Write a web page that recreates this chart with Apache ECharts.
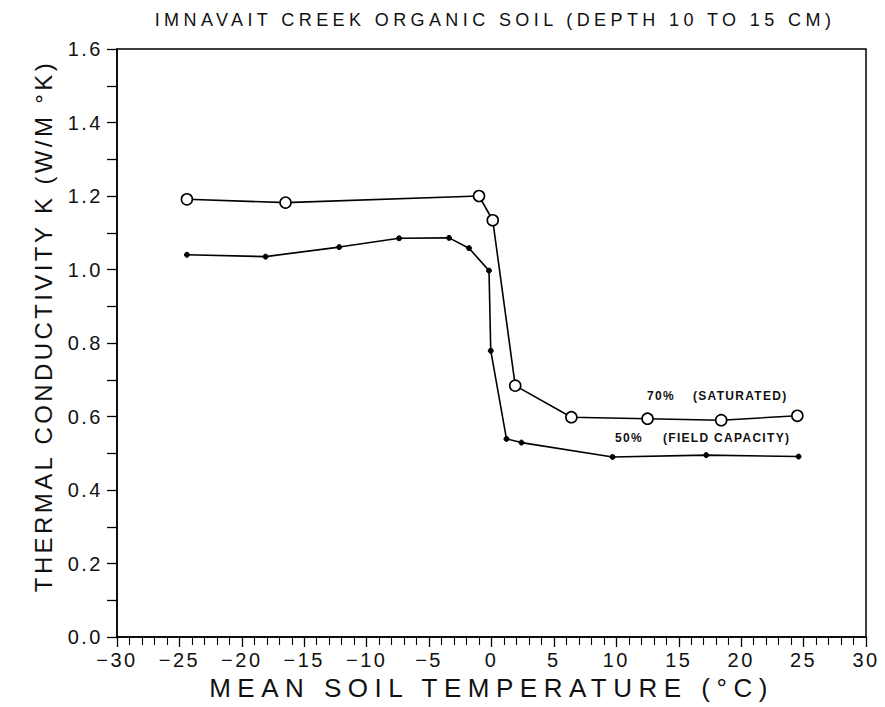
<!DOCTYPE html>
<html><head><meta charset="utf-8">
<script src="https://cdn.jsdelivr.net/npm/echarts@6/dist/echarts.min.js"></script>
<style>
html,body{margin:0;padding:0;background:#fff}
#c{width:885px;height:707px}
#c text[style*="18px"]{letter-spacing:4.4px}
#c text[style*="26px"]{letter-spacing:6.5px}
#c text[style*="24px"]{letter-spacing:3.4px}
#c text[style*="20px"]{letter-spacing:2.5px}
#c text[style*="12px"]{letter-spacing:1.3px}
</style>
</head><body><div id="c"></div>
<script>
// Saturated (70%) series: [temperature °C, k W/m°K]
const saturatedT = [-24.4, -16.5, -1.0, 0.1, 1.9, 6.4, 12.5, 18.4, 24.5];
const saturatedK = [1.191, 1.182, 1.200, 1.134, 0.684, 0.598, 0.594, 0.590, 0.602];
// Field capacity (50%) series
const fieldT = [-24.4, -18.1, -12.2, -7.4, -3.4, -1.8, -0.2, -0.06, 1.2, 2.4, 9.7, 17.2, 24.6];
const fieldK = [1.040, 1.035, 1.061, 1.085, 1.086, 1.058, 0.997, 0.779, 0.539, 0.529, 0.490, 0.495, 0.491];
const xTicks = [-30, -25, -20, -15, -10, -5, 0, 5, 10, 15, 20, 25, 30];
const yTicks = [0.0, 0.2, 0.4, 0.6, 0.8, 1.0, 1.2, 1.4, 1.6];

const FONT = 'Liberation Sans';
const chart = echarts.init(document.getElementById('c'), null, {renderer: 'svg'});
const zip = (a, b) => a.map((v, i) => [v, b[i]]);
chart.setOption({
  animation: false,
  backgroundColor: '#fff',
  title: {
    text: 'IMNAVAIT CREEK ORGANIC SOIL (DEPTH 10 TO 15 CM)',
    left: 490, top: 6, textAlign: 'center',
    textStyle: {fontFamily: FONT, fontSize: 18, fontWeight: 'normal', color: '#111'}
  },
  grid: {left: 117, right: 19, top: 49, bottom: 70, show: true, borderColor: '#000', borderWidth: 1.5, backgroundColor: 'transparent'},
  xAxis: {
    type: 'value', min: xTicks[0], max: xTicks[xTicks.length - 1], interval: 5,
    name: 'MEAN SOIL TEMPERATURE (°C)', nameLocation: 'middle', nameGap: 29,
    nameTextStyle: {fontFamily: FONT, fontSize: 26, color: '#111'},
    axisLine: {show: true, onZero: false, lineStyle: {color: '#000', width: 1.5}},
    axisTick: {show: true, inside: false, length: 10, lineStyle: {color: '#000', width: 1.3}},
    minorTick: {show: true, splitNumber: 5, length: 8, lineStyle: {color: '#000', width: 1.1}},
    splitLine: {show: false},
    axisLabel: {fontFamily: FONT, fontSize: 20, color: '#111', margin: 13,
      formatter: v => (v < 0 ? '\u2212' + Math.abs(v) : String(v))}
  },
  yAxis: {
    type: 'value', min: yTicks[0], max: yTicks[yTicks.length - 1], interval: 0.2,
    name: 'THERMAL CONDUCTIVITY K (W/M °K)', nameLocation: 'middle', nameGap: 62, nameRotate: 90,
    nameTextStyle: {fontFamily: FONT, fontSize: 24, color: '#111', padding: [0, 0, 0, 34]},
    axisLine: {show: true, onZero: false, lineStyle: {color: '#000', width: 1.5}},
    axisTick: {show: true, inside: false, length: 10, lineStyle: {color: '#000', width: 1.3}},
    minorTick: {show: true, splitNumber: 2, length: 10, lineStyle: {color: '#000', width: 1.3}},
    splitLine: {show: false},
    axisLabel: {fontFamily: FONT, fontSize: 20, color: '#111', margin: 14, formatter: v => v.toFixed(1)}
  },
  series: [
    {type: 'line', data: zip(saturatedT, saturatedK), symbol: 'circle', symbolSize: 11, showSymbol: true,
      lineStyle: {color: '#000', width: 1.6}, itemStyle: {color: '#fff', borderColor: '#000', borderWidth: 1.6}},
    {type: 'line', data: zip(fieldT, fieldK), symbol: 'circle', symbolSize: 5,
      lineStyle: {color: '#000', width: 1.6}, itemStyle: {color: '#000', borderColor: '#000', borderWidth: 1}}
  ],
  graphic: [
    {type: 'text', left: 647, top: 390, style: {text: '70%', font: 'bold 12px "Liberation Sans"', fill: '#111'}},
    {type: 'text', left: 693, top: 390, style: {text: '(SATURATED)', font: 'bold 12px "Liberation Sans"', fill: '#111'}},
    {type: 'text', left: 615, top: 432, style: {text: '50%', font: 'bold 12px "Liberation Sans"', fill: '#111'}},
    {type: 'text', left: 663, top: 432, style: {text: '(FIELD CAPACITY)', font: 'bold 12px "Liberation Sans"', fill: '#111'}}
  ]
});
</script></body></html>
